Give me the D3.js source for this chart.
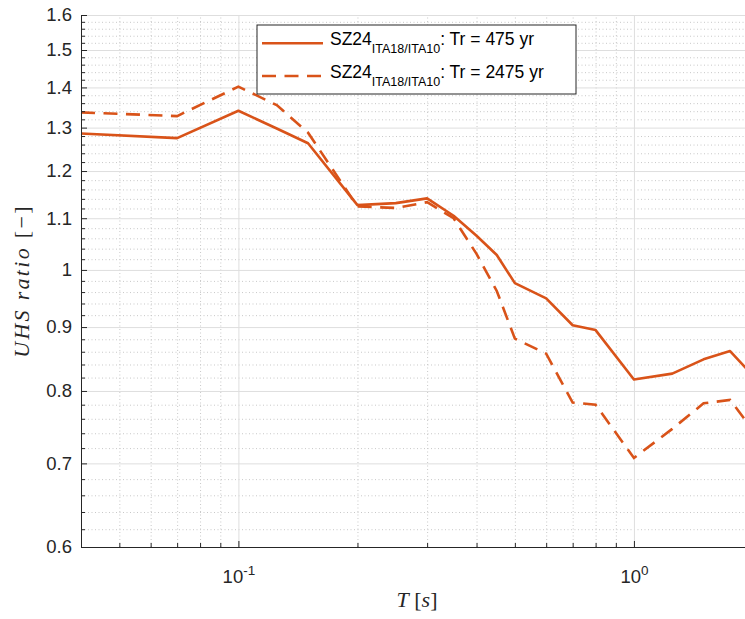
<!DOCTYPE html>
<html>
<head>
<meta charset="utf-8">
<script src="https://cdn.jsdelivr.net/npm/d3@7"></script>
<style>
  body { margin: 0; background: #fff; }
  svg { display: block; }
</style>
</head>
<body>
<script>
// periods T [s] and UHS ratios
var periods = [0.04, 0.07, 0.1, 0.125, 0.15, 0.2, 0.25, 0.3, 0.35, 0.4, 0.45,
               0.5, 0.6, 0.7, 0.8, 1.0, 1.25, 1.5, 1.75, 2.0];
var ratio475 = [1.286, 1.275, 1.341, 1.298, 1.263, 1.127, 1.131, 1.141, 1.105, 1.065, 1.028,
                0.976, 0.949, 0.903, 0.895, 0.817, 0.826, 0.848, 0.861, 0.823];
var ratio2475 = [1.337, 1.328, 1.402, 1.355, 1.288, 1.124, 1.121, 1.133, 1.100, 1.030, 0.962,
                 0.881, 0.857, 0.783, 0.780, 0.707, 0.746, 0.782, 0.787, 0.744];

var yMajor = [0.6, 0.7, 0.8, 0.9, 1.0, 1.1, 1.2, 1.3, 1.4, 1.5, 1.6];
var yMinor = [];
for (var k = 60; k < 160; k += 2) { if (k % 10 !== 0) yMinor.push(k / 100); }
var xMajor = [0.1, 1];
var xExp = ["-1", "0"];
var xMinor = [0.05, 0.06, 0.07, 0.08, 0.09, 0.2, 0.3, 0.4, 0.5, 0.6, 0.7, 0.8, 0.9, 2];

var seriesNames = ["Tr = 475 yr", "Tr = 2475 yr"];

function drawChart() {
  var svgWidth = 745, svgHeight = 619;
  var margin = { left: 81, right: 753, top: 15, bottom: 547 };
  var orange = "#D95319";
  var axisCol = "#262626";
  var plotH = margin.bottom - margin.top;
  var plotW = margin.right - margin.left;

  var svg = d3.select("body").append("svg")
    .attr("width", svgWidth)
    .attr("height", svgHeight);

  var x = d3.scaleLog().domain([0.04, 2]).range([margin.left, margin.right]);
  var y = d3.scaleLog().domain([0.6, 1.6]).range([margin.bottom, margin.top]);

  // minor grid (dotted)
  svg.append("g")
    .attr("transform", "translate(0," + margin.bottom + ")")
    .call(d3.axisBottom(x).tickValues(xMinor).tickSize(-plotH).tickFormat(""))
    .call(function(g) {
      g.select(".domain").remove();
      g.selectAll("line").attr("stroke", "#c8c8c8").attr("stroke-dasharray", "1,2.5");
    });
  svg.append("g")
    .attr("transform", "translate(" + margin.left + ",0)")
    .call(d3.axisLeft(y).tickValues(yMinor).tickSize(-plotW).tickFormat(""))
    .call(function(g) {
      g.select(".domain").remove();
      g.selectAll("line").attr("stroke", "#c8c8c8").attr("stroke-dasharray", "1,2.5");
    });

  // major grid
  svg.append("g")
    .attr("transform", "translate(0," + margin.bottom + ")")
    .call(d3.axisBottom(x).tickValues(xMajor).tickSize(-plotH).tickFormat(""))
    .call(function(g) {
      g.select(".domain").remove();
      g.selectAll("line").attr("stroke", "#dedede");
    });
  svg.append("g")
    .attr("transform", "translate(" + margin.left + ",0)")
    .call(d3.axisLeft(y).tickValues(yMajor).tickSize(-plotW).tickFormat(""))
    .call(function(g) {
      g.select(".domain").remove();
      g.selectAll("line").attr("stroke", "#dedede");
    });

  // lines
  var line = d3.line()
    .x(function(d) { return x(d[0]); })
    .y(function(d) { return y(d[1]); });

  var data475 = periods.map(function(p, i) { return [p, ratio475[i]]; });
  var data2475 = periods.map(function(p, i) { return [p, ratio2475[i]]; });

  svg.append("path")
    .datum(data475)
    .attr("d", line)
    .attr("fill", "none")
    .attr("stroke", orange)
    .attr("stroke-width", 2.6)
    .attr("stroke-linejoin", "round");

  svg.append("path")
    .datum(data2475)
    .attr("d", line)
    .attr("fill", "none")
    .attr("stroke", orange)
    .attr("stroke-width", 2.6)
    .attr("stroke-dasharray", "14,8.5");

  // minor ticks
  svg.append("g")
    .attr("transform", "translate(0," + margin.bottom + ")")
    .call(d3.axisBottom(x).tickValues(xMinor).tickSize(-4).tickFormat(""))
    .call(function(g) {
      g.select(".domain").remove();
      g.selectAll("line").attr("stroke", axisCol);
    });
  svg.append("g")
    .attr("transform", "translate(" + margin.left + ",0)")
    .call(d3.axisLeft(y).tickValues(yMinor).tickSize(-4).tickFormat(""))
    .call(function(g) {
      g.select(".domain").remove();
      g.selectAll("line").attr("stroke", axisCol);
    });

  // main axes
  svg.append("g")
    .attr("transform", "translate(0," + margin.bottom + ")")
    .call(d3.axisBottom(x).tickValues(xMajor).tickSize(-6).tickSizeOuter(0).tickFormat(""))
    .call(function(g) {
      g.select(".domain").attr("stroke", axisCol);
      g.selectAll("line").attr("stroke", axisCol);
      g.selectAll(".tick text").each(function(d, i) {
        var t = d3.select(this)
          .attr("y", 36).attr("dy", null)
          .attr("fill", axisCol)
          .style("font-family", "'Liberation Sans', Arial, sans-serif")
          .style("font-size", "18.5px")
          .attr("text-anchor", "middle");
        t.append("tspan").text("10");
        t.append("tspan").attr("dy", -8).style("font-size", "13.5px").text(xExp[i]);
      });
    });

  svg.append("g")
    .attr("transform", "translate(" + margin.left + ",0)")
    .call(d3.axisLeft(y).tickValues(yMajor).tickSize(-6).tickSizeOuter(0)
      .tickFormat(function(d) { return String(+d.toFixed(1)); }))
    .call(function(g) {
      g.select(".domain").attr("stroke", axisCol);
      g.selectAll("line").attr("stroke", axisCol);
      g.selectAll("text")
        .attr("x", -9)
        .attr("fill", axisCol)
        .style("font-family", "'Liberation Sans', Arial, sans-serif")
        .style("font-size", "18.5px");
    });

  // axis labels
  var xl = svg.append("text")
    .attr("x", (margin.left + margin.right) / 2)
    .attr("y", 607)
    .attr("text-anchor", "middle")
    .attr("fill", axisCol)
    .style("font-family", "'Liberation Serif', 'DejaVu Serif', serif")
    .style("font-size", "22px");
  xl.append("tspan").style("font-style", "italic").text("T");
  xl.append("tspan").text(" [");
  xl.append("tspan").style("font-style", "italic").text("s");
  xl.append("tspan").text("]");

  var yl = svg.append("text")
    .attr("transform", "translate(29," + ((margin.top + margin.bottom) / 2) + ") rotate(-90)")
    .attr("text-anchor", "middle")
    .attr("fill", axisCol)
    .style("font-family", "'Liberation Serif', 'DejaVu Serif', serif")
    .style("font-size", "22px")
    .style("letter-spacing", "2.3px");
  yl.append("tspan").style("font-style", "italic").text("UHS ratio");
  yl.append("tspan").text(" [\u2212]");

  // legend
  var legend = svg.append("g").attr("class", "legend");
  legend.append("rect")
    .attr("x", 257).attr("y", 25)
    .attr("width", 319).attr("height", 69)
    .attr("fill", "#fff")
    .attr("stroke", axisCol)
    .attr("stroke-width", 1);

  seriesNames.forEach(function(name, i) {
    var ly = 43.3 + i * 32.7;
    legend.append("line")
      .attr("x1", 262).attr("x2", 323)
      .attr("y1", ly).attr("y2", ly)
      .attr("stroke", orange)
      .attr("stroke-width", 2.6)
      .attr("stroke-dasharray", i === 1 ? "14,8.5" : null);
    var t = legend.append("text")
      .attr("x", 330).attr("y", ly + 1.8)
      .attr("fill", "#000")
      .style("font-family", "'Liberation Sans', Arial, sans-serif")
      .style("font-size", "17.5px");
    t.append("tspan").text("SZ24");
    t.append("tspan").attr("dy", 8).style("font-size", "12.5px").text("ITA18/ITA10");
    t.append("tspan").attr("dy", -8).text(": " + name);
  });
}

drawChart();
</script>
</body>
</html>
